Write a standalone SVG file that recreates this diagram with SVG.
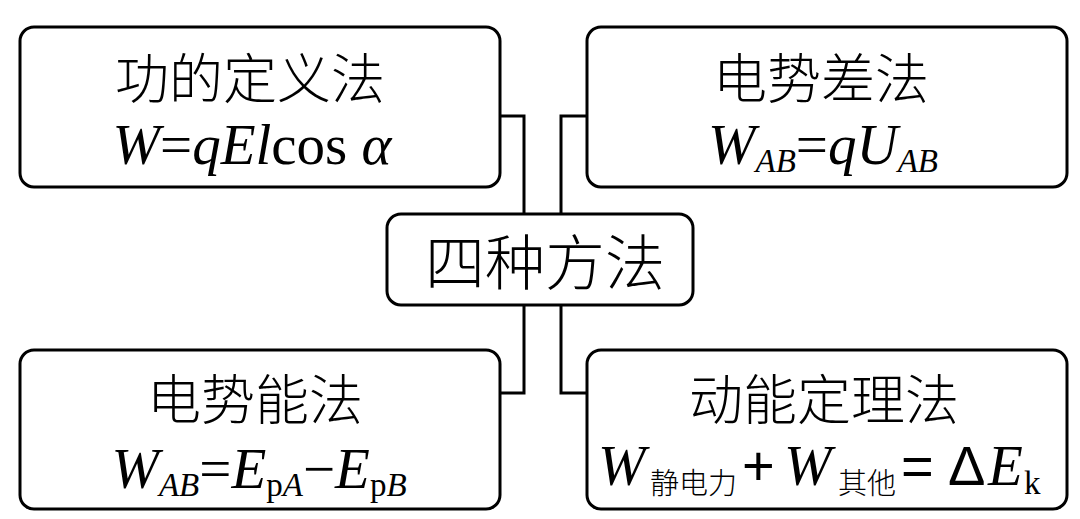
<svg xmlns="http://www.w3.org/2000/svg" width="1080" height="519" viewBox="0 0 1080 519">
<style>
.box{fill:#fff;stroke:#000;stroke-width:3}
.conn{fill:none;stroke:#000;stroke-width:3}
.cjk{font-family:"Noto Sans CJK SC",sans-serif;font-size:54px;font-weight:300;fill:#000}
.math{font-family:"Liberation Serif",serif;font-size:57px;fill:#000}
.sans{font-family:"Liberation Sans",sans-serif;font-size:56px;fill:#000}
.i{font-style:italic}
.sub{font-size:33px}
.csub{font-family:"Noto Sans CJK SC",sans-serif;font-size:29px;font-weight:300;fill:#000}
</style>
<rect width="1080" height="519" fill="#fff"/>
<g id="connectors">
<path class="conn" d="M500 116 H524 V214"/>
<path class="conn" d="M587 116 H561 V214"/>
<path class="conn" d="M524 305 V393 H500"/>
<path class="conn" d="M561 305 V393 H587"/>
</g>
<g id="node-center">
<rect class="box" x="387" y="214" width="306" height="91" rx="14"/>
<text class="cjk" x="545" y="285" text-anchor="middle" style="font-size:60px">四种方法</text>
</g>
<g id="node-tl">
<rect class="box" x="20" y="27" width="480" height="160" rx="14"/>
<text class="cjk" x="250" y="99" text-anchor="middle">功的定义法</text>
<text class="math" x="252" y="164" text-anchor="middle"><tspan class="i">W</tspan>=<tspan class="i">qEl</tspan>cos <tspan class="i">α</tspan></text>
</g>
<g id="node-tr">
<rect class="box" x="587" y="27" width="480" height="160" rx="14"/>
<text class="cjk" x="821" y="99" text-anchor="middle">电势差法</text>
<text class="math" x="823" y="164" text-anchor="middle"><tspan class="i">W</tspan><tspan class="i sub" dy="8">AB</tspan><tspan dy="-8">=</tspan><tspan class="i">qU</tspan><tspan class="i sub" dy="8">AB</tspan></text>
</g>
<g id="node-bl">
<rect class="box" x="20" y="350" width="480" height="159" rx="14"/>
<text class="cjk" x="255" y="420" text-anchor="middle">电势能法</text>
<text class="math" x="259" y="488" text-anchor="middle"><tspan class="i">W</tspan><tspan class="i sub" dy="8">AB</tspan><tspan dy="-8">=</tspan><tspan class="i">E</tspan><tspan class="sub" dy="8">p</tspan><tspan class="i sub">A</tspan><tspan dy="-8">−</tspan><tspan class="i">E</tspan><tspan class="sub" dy="8">p</tspan><tspan class="i sub">B</tspan></text>
</g>
<g id="node-br">
<rect class="box" x="587" y="350" width="480" height="159" rx="14"/>
<text class="cjk" x="824" y="420" text-anchor="middle">动能定理法</text>
<text class="math i" x="598" y="485">W</text>
<text class="csub" x="650" y="494">静电力</text>
<text class="sans" x="742" y="485">+</text>
<text class="math i" x="784" y="485">W</text>
<text class="csub" x="838" y="494">其他</text>
<text class="sans" x="901" y="485">=</text>
<text class="sans" x="948" y="485">Δ</text>
<text class="math i" x="988" y="485">E</text>
<text class="math sub" x="1024" y="494">k</text>
</g>
</svg>
